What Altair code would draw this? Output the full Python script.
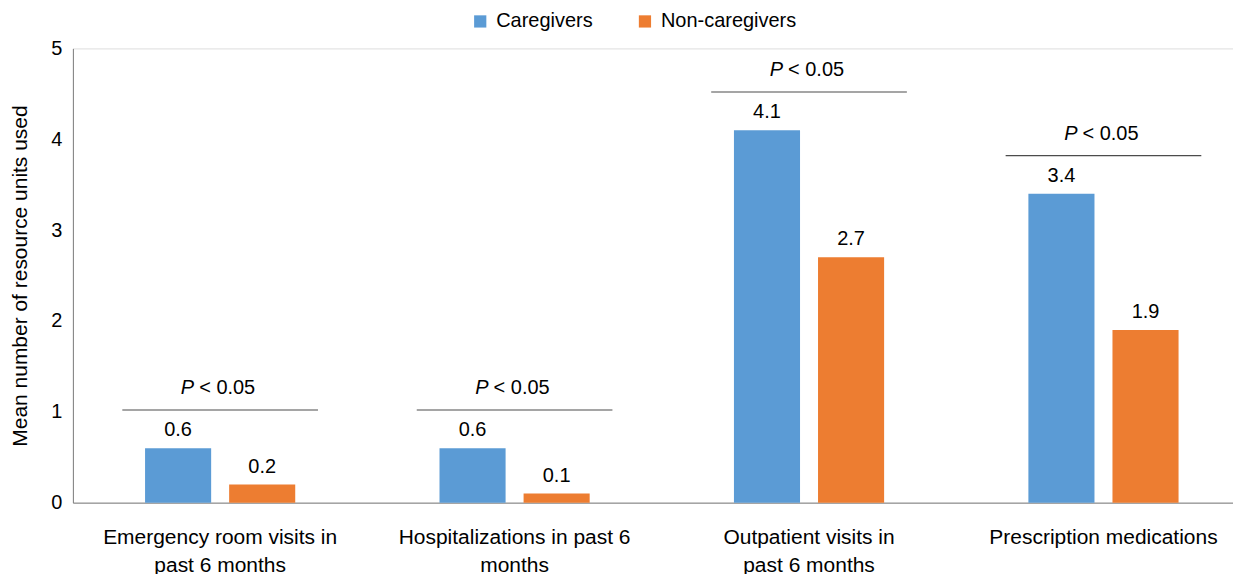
import altair as alt
import pandas as pd

categories = [
    "Emergency room visits in\npast 6 months",
    "Hospitalizations in past 6\nmonths",
    "Outpatient visits in\npast 6 months",
    "Prescription medications",
]
series = ["Caregivers", "Non-caregivers"]
caregivers = [0.6, 0.6, 4.1, 3.4]
non_caregivers = [0.2, 0.1, 2.7, 1.9]
p_labels = ["< 0.05", "< 0.05", "< 0.05", "< 0.05"]
colors = ["#5B9BD5", "#ED7D31"]

rows = []
for c, a, b in zip(categories, caregivers, non_caregivers):
    rows.append({"cat": c, "series": series[0], "value": a, "label": f"{a:.1f}"})
    rows.append({"cat": c, "series": series[1], "value": b, "label": f"{b:.1f}"})
df = pd.DataFrame(rows)

brk = pd.DataFrame({
    "cat": categories,
    "level": [max(a, b) + 0.42 for a, b in zip(caregivers, non_caregivers)],
    "p": p_labels,
})

FONT = "Liberation Sans"
FS = 20

x = alt.X("cat:N", sort=categories, title=None,
          scale=alt.Scale(paddingInner=0.49, paddingOuter=0.215, align=0.57),
          axis=alt.Axis(labelAngle=0, ticks=False, domainColor="#7f7f7f",
                        labelFontSize=21, labelColor="#000000", labelPadding=24,
                        labelLineHeight=28, labelLimit=400,
                        labelExpr="split(datum.label, '\\n')"))
y = alt.Y("value:Q", title="Mean number of resource units used",
          scale=alt.Scale(domain=[0, 5], nice=False),
          axis=alt.Axis(values=[0, 1, 2, 3, 4, 5], format="d", grid=False, ticks=False,
                        domainColor="#7f7f7f", labelFontSize=FS, labelColor="#000000",
                        labelPadding=11, titleFontSize=21, titleFontWeight="normal",
                        titleColor="#000000", titlePadding=20))

xoff = alt.XOffset("series:N", sort=series,
                   scale=alt.Scale(paddingInner=0.214, paddingOuter=0))

bars = alt.Chart(df).mark_bar().encode(
    x=x, y=y, xOffset=xoff,
    color=alt.Color("series:N", sort=series, title=None,
                    scale=alt.Scale(domain=series, range=colors),
                    legend=alt.Legend(orient="none", direction="horizontal",
                                      legendX=398, legendY=-37,
                                      symbolType="square", symbolSize=150,
                                      symbolStrokeWidth=0,
                                      labelFontSize=FS, labelColor="#000000",
                                      columnPadding=42, labelOffset=6)),
)

vals = alt.Chart(df).mark_text(baseline="bottom", dy=-8, fontSize=FS, font=FONT,
                               color="#000000").encode(
    x=alt.X("cat:N", sort=categories), y="value:Q", xOffset=xoff, text="label:N"
)

rule = alt.Chart(brk).mark_tick(size=196, thickness=1.2, color="#000000",
                                orient="horizontal").encode(
    x=alt.X("cat:N", sort=categories), y="level:Q"
)
ptext_p = alt.Chart(brk).mark_text(text="P", fontStyle="italic", align="right",
                                   baseline="bottom", dx=-26, dy=-12, fontSize=FS,
                                   font=FONT, color="#000000").encode(
    x=alt.X("cat:N", sort=categories), y="level:Q"
)
ptext_v = alt.Chart(brk).mark_text(align="left", baseline="bottom", dx=-21, dy=-12,
                                   fontSize=FS, font=FONT, color="#000000").encode(
    x=alt.X("cat:N", sort=categories), y="level:Q", text="p:N"
)

chart = alt.layer(bars, vals, rule, ptext_p, ptext_v).properties(
    width=1162, height=455,
    padding={"left": 1, "top": 3, "right": 0, "bottom": 0},
).configure_view(stroke=None).configure(font=FONT)

chart.save("out.html", embed_options={"renderer": "svg", "actions": False})
